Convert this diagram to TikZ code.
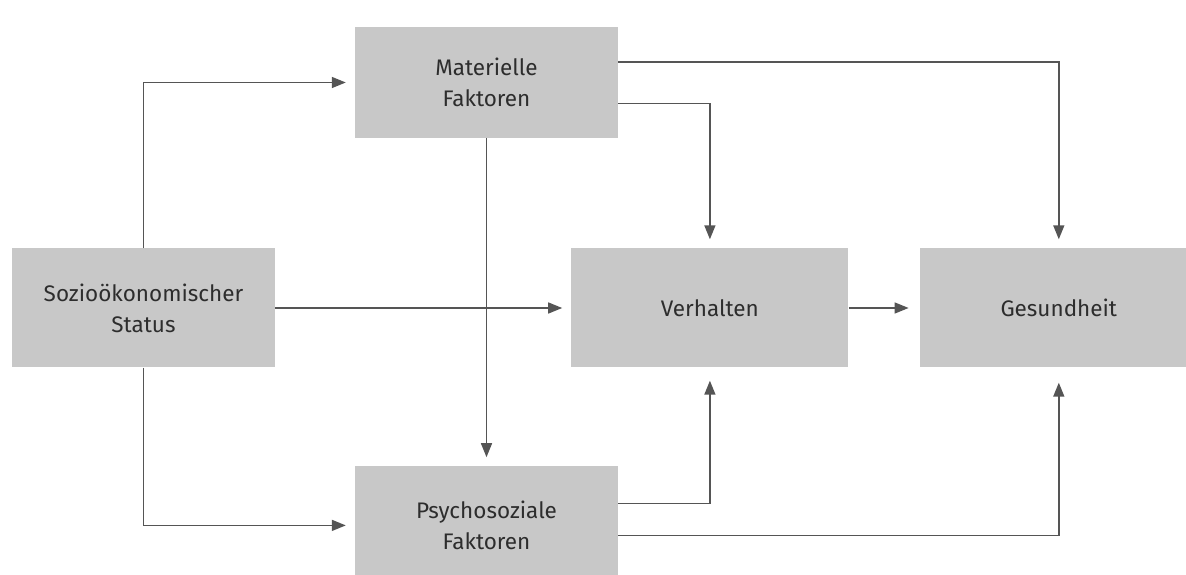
\documentclass[tikz,border=0pt]{standalone}
\usepackage{fontspec}
\setmainfont{Fira Sans}
\usetikzlibrary{arrows.meta,positioning}
\definecolor{boxgray}{RGB}{200,200,200}
\definecolor{linegray}{RGB}{85,85,85}
\definecolor{textgray}{RGB}{45,45,45}

\begin{document}
\begin{tikzpicture}[x=1pt, y=1pt, node distance=296pt,
    box/.style={rectangle, fill=boxgray, text=textgray, align=center,
      minimum width=263pt, minimum height=119pt, inner sep=0pt,
      font=\fontsize{22.5}{31}\selectfont},
    arr/.style={-{Triangle[length=14pt,width=11pt]}, draw=linegray,
      line width=1.5pt, shorten >=9pt}]
  \useasboundingbox (0,0) rectangle (1186,575);
  % Place nodes
  \node [box] (sozio) at (143.5,267) {Sozioökonomischer\\Status};
  \node [box, right=296pt of sozio, minimum width=277pt] (verh) {Verhalten};
  \node [box, right=71pt of verh, minimum width=278pt] (ges) {Gesundheit};
  \node [box, minimum height=111pt] (mat) at (486.5,492.5) {Materielle\\Faktoren};
  \node [box, below=328pt of mat, minimum height=118pt] (psy) {Psychosoziale\\Faktoren};
  % Draw edges
  \draw [arr] (sozio.north) |- (mat.west);
  \draw [arr] (sozio) -- (verh);
  \draw [arr] (sozio.south) |- (psy.west);
  \draw [arr] ([yshift=20.5pt]mat.east) -| (ges.north);
  \draw [arr] ([yshift=-21pt]mat.east) -| (verh.north);
  \draw [arr] (mat) -- (psy);
  \draw [arr, shorten >=13pt] ([yshift=22pt]psy.east) -| (verh.south);
  \draw [arr, shorten >=15pt] ([yshift=-10pt]psy.east) -| (ges.south);
  \draw [arr, shorten >=11pt] (verh) -- (ges);
\end{tikzpicture}
\end{document}
